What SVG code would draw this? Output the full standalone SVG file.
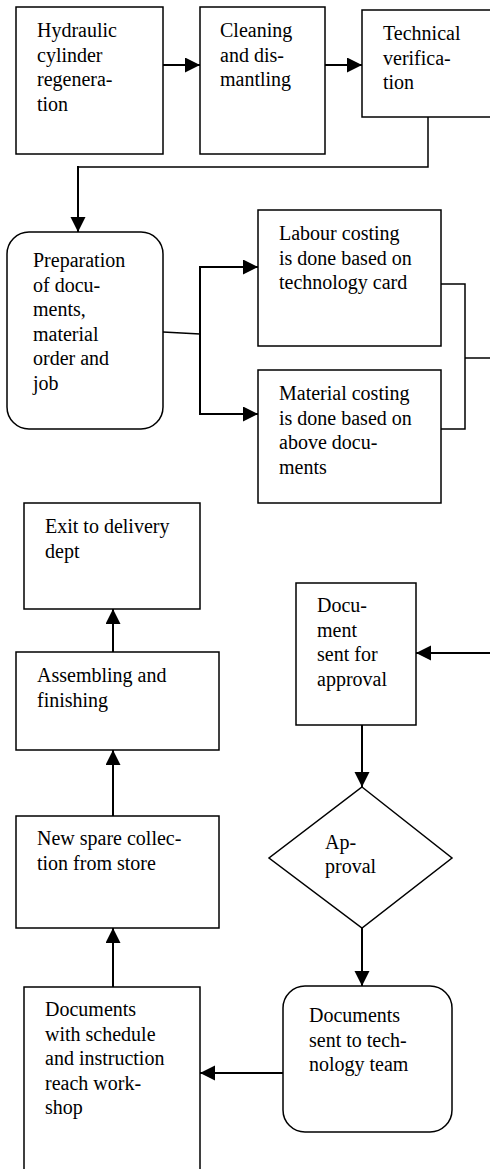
<svg xmlns="http://www.w3.org/2000/svg" width="490" height="1169" viewBox="0 0 490 1169">
<style>
.box{fill:#fff;stroke:#000;stroke-width:1.5}
text{font-family:"Liberation Serif","Times New Roman",Times,serif;font-size:20px;fill:#000}
.c{fill:none;stroke:#000;stroke-width:2}
.c1{fill:none;stroke:#000;stroke-width:1.5}
</style>
<defs>
<marker id="ah" markerUnits="userSpaceOnUse" markerWidth="16" markerHeight="16" refX="15" refY="7.5" orient="auto">
<path d="M0,0 L15,7.5 L0,15 Z" fill="#000"/>
</marker>
</defs>
<rect width="490" height="1169" fill="#fff"/>
<g id="n1"><rect class="box" x="16" y="7" width="147" height="147"/>
<text x="37" y="37">Hydraulic</text><text x="37" y="61.5">cylinder</text><text x="37" y="86">regenera-</text><text x="37" y="110.5">tion</text></g>
<g id="n2"><rect class="box" x="200" y="7" width="125" height="147"/>
<text x="220" y="37">Cleaning</text><text x="220" y="61.5">and dis-</text><text x="220" y="86">mantling</text></g>
<g id="n3"><rect class="box" x="362" y="10" width="140" height="107"/>
<text x="383" y="40">Technical</text><text x="383" y="64.5">verifica-</text><text x="383" y="89">tion</text></g>
<g id="n4"><rect class="box" x="7" y="232" width="156" height="197" rx="22"/>
<text x="33" y="267">Preparation</text><text x="33" y="291.5">of docu-</text><text x="33" y="316">ments,</text><text x="33" y="340.5">material</text><text x="33" y="365">order and</text><text x="33" y="389.5">job</text></g>
<g id="n5"><rect class="box" x="258" y="210" width="183" height="136"/>
<text x="279" y="240">Labour costing</text><text x="279" y="264.5">is done based on</text><text x="279" y="289">technology card</text></g>
<g id="n6"><rect class="box" x="258" y="370" width="183" height="133"/>
<text x="279" y="400">Material costing</text><text x="279" y="424.5">is done based on</text><text x="279" y="449">above docu-</text><text x="279" y="473.5">ments</text></g>
<g id="n7"><rect class="box" x="24" y="503" width="176" height="106"/>
<text x="45" y="533">Exit to delivery</text><text x="45" y="558">dept</text></g>
<g id="n8"><rect class="box" x="16" y="652" width="203" height="98"/>
<text x="37" y="682">Assembling and</text><text x="37" y="707">finishing</text></g>
<g id="n9"><rect class="box" x="296" y="583" width="120" height="142"/>
<text x="317" y="612">Docu-</text><text x="317" y="636.5">ment</text><text x="317" y="661">sent for</text><text x="317" y="685.5">approval</text></g>
<g id="n10"><polygon class="box" points="362,787 452,858 362,928 269,858"/>
<text x="325" y="849">Ap-</text><text x="325" y="873">proval</text></g>
<g id="n11"><rect class="box" x="16" y="816" width="203" height="112"/>
<text x="37" y="845">New spare collec-</text><text x="37" y="870">tion from store</text></g>
<g id="n12"><rect class="box" x="283" y="986" width="169" height="146" rx="22"/>
<text x="309" y="1022">Documents</text><text x="309" y="1047">sent to tech-</text><text x="309" y="1071">nology team</text></g>
<g id="n13"><rect class="box" x="24" y="987" width="176" height="200"/>
<text x="45" y="1016">Documents</text><text x="45" y="1040.5">with schedule</text><text x="45" y="1065">and instruction</text><text x="45" y="1089.5">reach work-</text><text x="45" y="1114">shop</text></g>
<g id="connectors">
<line class="c" x1="163" y1="65" x2="200" y2="65" marker-end="url(#ah)"/>
<line class="c" x1="325" y1="65" x2="362" y2="65" marker-end="url(#ah)"/>
<polyline class="c1" points="428,117 428,167 78,167"/>
<line class="c" x1="78" y1="166" x2="78" y2="232" marker-end="url(#ah)"/>
<line class="c1" x1="163" y1="332" x2="200" y2="334"/>
<polyline class="c" points="258,267 200,267 200,414 258,414" marker-end="url(#ah)"/>
<line class="c" x1="200" y1="267" x2="258" y2="267" marker-end="url(#ah)"/>
<polyline class="c1" points="441,284 465,284 465,429 441,429"/>
<line class="c1" x1="465" y1="358" x2="492" y2="358"/>
<line class="c" x1="113" y1="652" x2="113" y2="609" marker-end="url(#ah)"/>
<line class="c" x1="490" y1="653" x2="416" y2="653" marker-end="url(#ah)"/>
<line class="c" x1="362" y1="725" x2="362" y2="787" marker-end="url(#ah)"/>
<line class="c" x1="113" y1="816" x2="113" y2="750" marker-end="url(#ah)"/>
<line class="c" x1="362" y1="928" x2="362" y2="986" marker-end="url(#ah)"/>
<line class="c" x1="113" y1="987" x2="113" y2="928" marker-end="url(#ah)"/>
<line class="c" x1="283" y1="1073" x2="200" y2="1073" marker-end="url(#ah)"/>
</g>
</svg>
